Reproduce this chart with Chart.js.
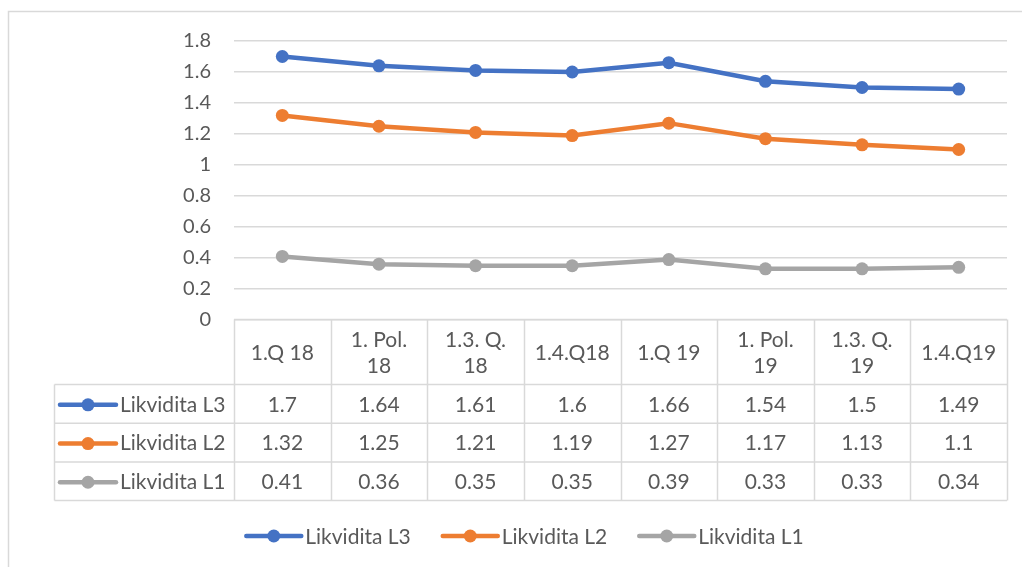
<!DOCTYPE html>
<html>
<head>
<meta charset="utf-8">
<script src="https://cdn.jsdelivr.net/npm/chart.js@4.4.1/dist/chart.umd.min.js"></script>
<style>
  body { margin: 0; background: #fff; }
  #wrap { width: 1022px; height: 567px; }
</style>
</head>
<body>
<div id="wrap"><canvas id="likvidita" width="1022" height="567"></canvas></div>
<script>
const periods = [ ['1.Q 18'], ['1. Pol.', '18'], ['1.3. Q.', '18'], ['1.4.Q18'], ['1.Q 19'], ['1. Pol.', '19'], ['1.3. Q.', '19'], ['1.4.Q19'] ]
const likviditaL3 = [ 1.7, 1.64, 1.61, 1.6, 1.66, 1.54, 1.5, 1.49 ]
const likviditaL2 = [ 1.32, 1.25, 1.21, 1.19, 1.27, 1.17, 1.13, 1.1 ]
const likviditaL1 = [ 0.41, 0.36, 0.35, 0.35, 0.39, 0.33, 0.33, 0.34 ]
const yTicks = [ 0, 0.2, 0.4, 0.6, 0.8, 1, 1.2, 1.4, 1.6, 1.8 ]

const textColor = '#595959'
const lineColor = '#d9d9d9'
const fontFamily = 'Lato, "Open Sans", sans-serif'

// excel-like data table + legend under the plot
const dataTable = {
  id: 'dataTable',
  afterDraw( chart ) {
    const ctx = chart.ctx
    const area = chart.chartArea
    const xScale = chart.scales.x
    const colW = ( area.right - area.left ) / periods.length
    const headTop = Math.round( area.bottom ) - 0.5
    const headBottom = 384.5
    const rowH = 38.7
    const tableLeft = 54.5
    const tableBottom = headBottom + rowH * chart.data.datasets.length

    ctx.save()
    // outer chart frame (only top and left are in view)
    ctx.strokeStyle = lineColor
    ctx.lineWidth = 1.5
    ctx.beginPath()
    ctx.moveTo( 8.5, 567 ); ctx.lineTo( 8.5, 11.5 ); ctx.lineTo( 1022, 11.5 )
    ctx.stroke()

    ctx.beginPath()
    ctx.moveTo( area.left, headTop ); ctx.lineTo( area.right, headTop )
    ctx.moveTo( tableLeft, headBottom ); ctx.lineTo( area.right, headBottom )
    for ( let r = 1; r <= chart.data.datasets.length; r++ ) {
      ctx.moveTo( tableLeft, headBottom + rowH * r ); ctx.lineTo( area.right, headBottom + rowH * r )
    }
    ctx.moveTo( tableLeft, headBottom ); ctx.lineTo( tableLeft, tableBottom )
    for ( let c = 0; c <= periods.length; c++ ) {
      const cx = Math.round( area.left + colW * c ) + 0.5
      ctx.moveTo( cx, headTop ); ctx.lineTo( cx, tableBottom )
    }
    ctx.stroke()

    ctx.fillStyle = textColor
    ctx.font = '21px ' + fontFamily
    ctx.textAlign = 'center'
    ctx.textBaseline = 'middle'
    const headMid = ( headTop + headBottom ) / 2 + 1
    periods.forEach( ( lines, i ) => {
      const cx = xScale.getPixelForValue( i )
      lines.forEach( ( txt, k ) => {
        ctx.fillText( txt, cx, headMid + ( k - ( lines.length - 1 ) / 2 ) * 26 )
      } )
    } )

    chart.data.datasets.forEach( ( ds, r ) => {
      const cy = headBottom + rowH * r + rowH / 2 + 1
      drawKey( ctx, 60, 116, cy, ds.borderColor )
      ctx.fillStyle = textColor
      ctx.textAlign = 'left'
      ctx.fillText( ds.label, 120, cy )
      ctx.textAlign = 'center'
      ds.data.forEach( ( v, i ) => {
        ctx.fillText( String( v ), xScale.getPixelForValue( i ), cy )
      } )
    } )

    // bottom legend
    ctx.textAlign = 'left'
    const items = chart.data.datasets.map( ds => ( { ds, w: 59 + ctx.measureText( ds.label ).width } ) )
    const gap = 32
    const total = items.reduce( ( s, it ) => s + it.w, 0 ) + gap * ( items.length - 1 )
    let lx = 525 - total / 2
    const ly = 536
    items.forEach( it => {
      drawKey( ctx, lx, lx + 55, ly, it.ds.borderColor )
      ctx.fillStyle = textColor
      ctx.fillText( it.ds.label, lx + 59, ly + 1 )
      lx += it.w + gap
    } )
    ctx.restore()
  }
}

function drawKey( ctx, x1, x2, y, color ) {
  ctx.strokeStyle = color
  ctx.lineWidth = 4.5
  ctx.lineCap = 'round'
  ctx.beginPath(); ctx.moveTo( x1, y ); ctx.lineTo( x2, y ); ctx.stroke()
  ctx.fillStyle = color
  ctx.beginPath(); ctx.arc( ( x1 + x2 ) / 2, y, 6.5, 0, Math.PI * 2 ); ctx.fill()
  ctx.lineCap = 'butt'
  ctx.strokeStyle = lineColor
  ctx.lineWidth = 1.5
}

const series = ( label, data, color ) => ( {
  label: label,
  data: data,
  borderColor: color,
  backgroundColor: color,
  borderWidth: 4.5,
  tension: 0,
  pointRadius: 6.5,
  pointBorderWidth: 0,
  pointHoverRadius: 6.5
} )

const config = {
  type: 'line',
  data: {
    labels: periods,
    datasets: [
      series( 'Likvidita L3', likviditaL3, '#4472c4' ),
      series( 'Likvidita L2', likviditaL2, '#ed7d31' ),
      series( 'Likvidita L1', likviditaL1, '#a5a5a5' )
    ]
  },
  options: {
    responsive: false,
    animation: false,
    layout: { padding: { left: 0, right: 15, top: 41, bottom: 247 } },
    plugins: { legend: { display: false }, tooltip: { enabled: false } },
    scales: {
      x: {
        display: false,
        offset: true
      },
      y: {
        min: 0,
        max: 1.8,
        afterFit( scale ) { scale.width = 234 },
        afterBuildTicks( scale ) { scale.ticks = yTicks.map( v => ( { value: v } ) ) },
        border: { display: false },
        grid: { color: lineColor, lineWidth: 1.5, drawTicks: false },
        ticks: {
          padding: 23,
          color: textColor,
          font: { family: fontFamily, size: 20 },
          callback: v => String( v )
        }
      }
    }
  },
  plugins: [ dataTable ]
}

const graph = new Chart( document.getElementById( 'likvidita' ), config )
</script>
</body>
</html>
